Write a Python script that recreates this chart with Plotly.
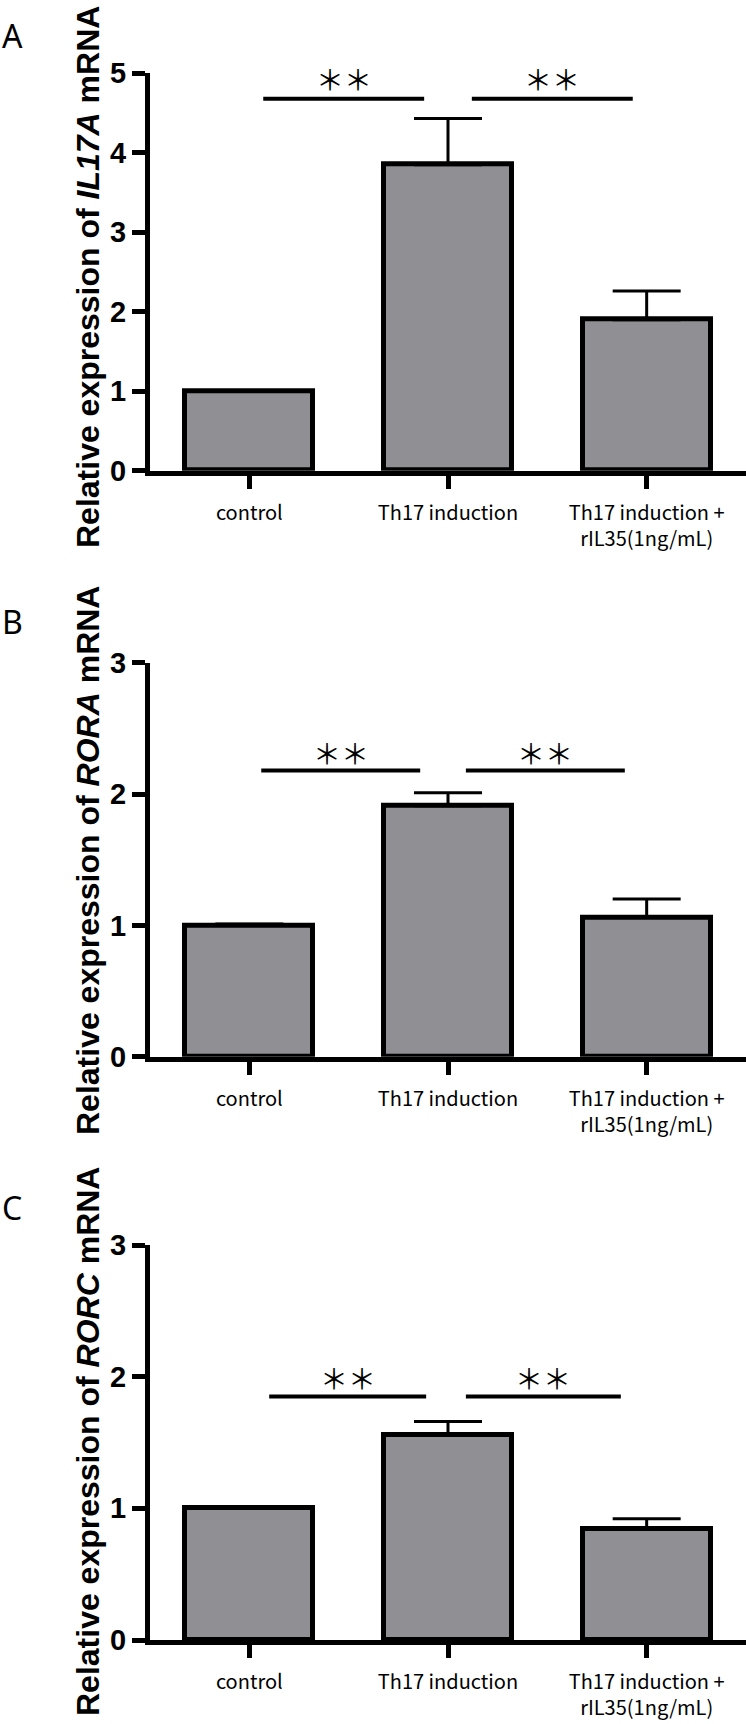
import plotly.graph_objects as go

# ---------------- data ----------------
categories = ["control", "Th17 induction", "Th17 induction +<br>rIL35(1ng/mL)"]

il17a_mean = [1.00, 3.85, 1.90]
il17a_err = [0.00, 0.58, 0.36]
rora_mean = [1.00, 1.91, 1.06]
rora_err = [0.01, 0.10, 0.14]
rorc_mean = [1.00, 1.56, 0.84]
rorc_err = [0.00, 0.10, 0.08]

panel_letters = ["A", "B", "C"]
genes = ["IL17A", "RORA", "RORC"]
y_max = [5, 3, 3]
y_tickvals = [[0, 1, 2, 3, 4, 5], [0, 1, 2, 3], [0, 1, 2, 3]]

# significance brackets (category-index spans) and heights
sig_line_y = [4.68, 2.18, 1.85]
sig_star_y = [4.93, 2.31, 1.99]
sig_spans = [
    [(0.07, 0.88), (1.12, 1.93)],
    [(0.06, 0.86), (1.09, 1.89)],
    [(0.10, 0.89), (1.09, 1.87)],
]
sig_text = ["＊＊", "＊＊"]

means = [il17a_mean, rora_mean, rorc_mean]
errs = [il17a_err, rora_err, rorc_err]

# ---------------- layout geometry (pixels) ----------------
W, H = 746, 1724
plot_px = [(73.3, 470.7), (662.7, 1056.7), (1245.0, 1640.0)]  # top, bottom
title_center_px = [277, 861, 1442]
letter_px = [36, 621, 1207]
x_left_px = 150


def py(p):
    return 1 - p / H


fig = go.Figure()
layout = dict(
    width=W, height=H, autosize=False,
    margin=dict(l=0, r=0, t=0, b=0, pad=0, autoexpand=False),
    paper_bgcolor="white", plot_bgcolor="white",
    showlegend=False,
    bargap=0,
    shapes=[], annotations=[],
)

for i in range(3):
    xa = "x" if i == 0 else f"x{i+1}"
    ya = "y" if i == 0 else f"y{i+1}"
    xkey = "xaxis" if i == 0 else f"xaxis{i+1}"
    ykey = "yaxis" if i == 0 else f"yaxis{i+1}"
    n = len(categories)
    fig.add_trace(go.Bar(
        x=categories, y=means[i], xaxis=xa, yaxis=ya,
        width=0.645,
        marker=dict(color="#8f8f94", line=dict(color="black", width=5)),
        error_y=dict(type="data", symmetric=False, array=errs[i],
                     arrayminus=[0] * n, color="black", thickness=3, width=34),
        hoverinfo="skip",
    ))
    top, bot = plot_px[i]
    layout[xkey] = dict(
        domain=[x_left_px / W, 1], anchor=ya, automargin=False,
        type="category", range=[-0.5, 2.5],
        showline=True, linecolor="black", linewidth=5,
        ticks="outside", ticklen=13, tickwidth=5, tickcolor="black",
        showgrid=False, zeroline=False,
        tickfont=dict(family="Noto Sans CJK JP", size=20, color="black"),
        ticklabelstandoff=7,
    )
    layout[ykey] = dict(
        domain=[py(bot), py(top)], anchor=xa, automargin=False,
        range=[0, y_max[i]], tickvals=y_tickvals[i],
        showline=True, linecolor="black", linewidth=5,
        ticks="outside", ticklen=13, tickwidth=5, tickcolor="black",
        showgrid=False, zeroline=False,
        tickfont=dict(family="Liberation Sans", size=29, color="black", weight="bold"),
        ticklabelstandoff=0,
    )
    # y title
    layout["annotations"].append(dict(
        xref="paper", yref="paper", x=88 / W, y=py(title_center_px[i]),
        xanchor="center", yanchor="middle", textangle=-90, showarrow=False,
        text=f"Relative expression of <i>{genes[i]}</i> mRNA",
        font=dict(family="Liberation Sans", size=32, color="black", weight="bold"),
    ))
    # panel letter
    layout["annotations"].append(dict(
        xref="paper", yref="paper", x=0, y=py(letter_px[i]),
        xanchor="left", yanchor="middle", showarrow=False,
        text=panel_letters[i],
        font=dict(family="Noto Sans", size=32, color="black"),
    ))
    # significance lines and stars
    for (x0, x1), s in zip(sig_spans[i], sig_text):
        layout["shapes"].append(dict(
            type="line", xref=xa, yref=ya, x0=x0, x1=x1,
            y0=sig_line_y[i], y1=sig_line_y[i],
            line=dict(color="black", width=4),
        ))
        layout["annotations"].append(dict(
            xref=xa, yref=ya, x=(x0 + x1) / 2, y=sig_star_y[i],
            xanchor="center", yanchor="middle", showarrow=False,
            text=s, font=dict(family="Noto Sans CJK JP", size=28, color="black"),
        ))

fig.update_layout(**layout)
fig.write_html(
    "out.html",
    config=dict(displayModeBar=False, responsive=False),
    post_script="document.body.style.margin='0px';document.body.style.padding='0px';"
                "document.documentElement.style.overflow='hidden';",
)
